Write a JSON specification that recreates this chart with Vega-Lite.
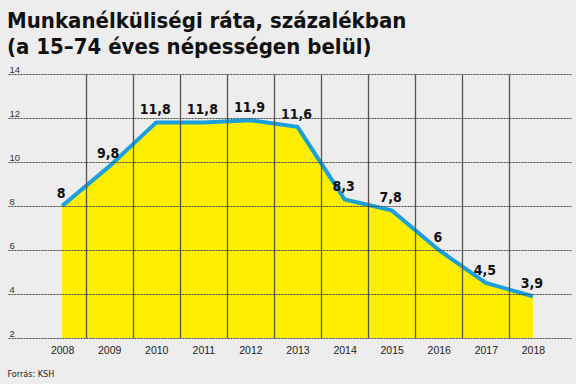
{
  "$schema": "https://vega.github.io/schema/vega-lite/v6.json",
  "width": 564,
  "height": 264,
  "autosize": {"type": "none"},
  "padding": {"left": 8, "top": 74, "right": 4, "bottom": 46},
  "background": "#EEEDED",
  "title": {
    "text": ["Munkanélküliségi ráta, százalékban", "(a 15–74 éves népességen belül)"],
    "anchor": "start",
    "frame": "group",
    "dx": -1,
    "offset": 5,
    "font": "'DejaVu Sans Condensed', 'Liberation Sans', sans-serif",
    "fontSize": 22,
    "fontWeight": "bold",
    "color": "#111111",
    "lineHeight": 26
  },
  "config": {
    "view": {"stroke": null},
    "font": "Liberation Sans"
  },
  "data": {
    "values": [
      {"year": 2008, "rate": 8, "label": "8"},
      {"year": 2009, "rate": 9.8, "label": "9,8"},
      {"year": 2010, "rate": 11.8, "label": "11,8"},
      {"year": 2011, "rate": 11.8, "label": "11,8"},
      {"year": 2012, "rate": 11.9, "label": "11,9"},
      {"year": 2013, "rate": 11.6, "label": "11,6"},
      {"year": 2014, "rate": 8.3, "label": "8,3"},
      {"year": 2015, "rate": 7.8, "label": "7,8"},
      {"year": 2016, "rate": 6, "label": "6"},
      {"year": 2017, "rate": 4.5, "label": "4,5"},
      {"year": 2018, "rate": 3.9, "label": "3,9"}
    ]
  },
  "resolve": {"axis": {"x": "independent", "y": "independent"}},
  "layer": [
    {
      "mark": {"type": "area", "color": "#FFEE00", "opacity": 1},
      "encoding": {
        "x": {
          "field": "year", "type": "quantitative",
          "scale": {"domain": [2006.851, 2018.83], "nice": false, "zero": false},
          "axis": {
            "values": [2008, 2009, 2010, 2011, 2012, 2013, 2014, 2015, 2016, 2017, 2018],
            "format": "d",
            "grid": false, "domain": false, "ticks": false,
            "labelFontSize": 10.5, "labelColor": "#222222", "labelPadding": 7,
            "labelFont": "Liberation Sans",
            "title": "Forrás: KSH",
            "titleAnchor": "start", "titleAlign": "left", "titleBaseline": "alphabetic",
            "titleX": -1, "titleY": 38,
            "titleFont": "'DejaVu Sans Condensed', 'Liberation Sans', sans-serif", "titleFontSize": 9, "titleFontWeight": "normal",
            "titleColor": "#222222"
          }
        },
        "y": {
          "field": "rate", "type": "quantitative",
          "scale": {"domain": [2, 14], "nice": false, "zero": false},
          "axis": {
            "values": [2, 4, 6, 8, 10, 12, 14],
            "grid": true, "gridDash": [2, 1], "gridColor": "#444444", "gridWidth": 1, "gridOpacity": 1,
            "zindex": 1,
            "domain": false, "ticks": false,
            "labelAlign": "left", "labelBaseline": "bottom", "labelPadding": -1, "labelDy": -1,
            "labelFontSize": 9.5, "labelColor": "#333333",
            "title": null
          }
        },
        "y2": {"datum": 2}
      }
    },
    {
      "mark": {"type": "line", "color": "#1AA0DB", "strokeWidth": 4, "strokeJoin": "miter"},
      "encoding": {
        "x": {
          "field": "year", "type": "quantitative",
          "axis": {
            "values": [2008.5, 2009.5, 2010.5, 2011.5, 2012.5, 2013.5, 2014.5, 2015.5, 2016.5, 2017.5],
            "grid": true, "gridColor": "#555555", "gridWidth": 1.3, "gridOpacity": 1,
            "zindex": 1,
            "labels": false, "domain": false, "ticks": false, "title": null
          }
        },
        "y": {"field": "rate", "type": "quantitative", "axis": null}
      }
    },
    {
      "mark": {"type": "text", "fontWeight": "bold", "fontSize": 14, "color": "#111111", "dy": -12, "dx": -1, "font": "'DejaVu Sans Condensed', 'Liberation Sans', sans-serif"},
      "encoding": {
        "x": {"field": "year", "type": "quantitative", "axis": null},
        "y": {"field": "rate", "type": "quantitative", "axis": null},
        "text": {"field": "label"}
      }
    }
  ]
}
